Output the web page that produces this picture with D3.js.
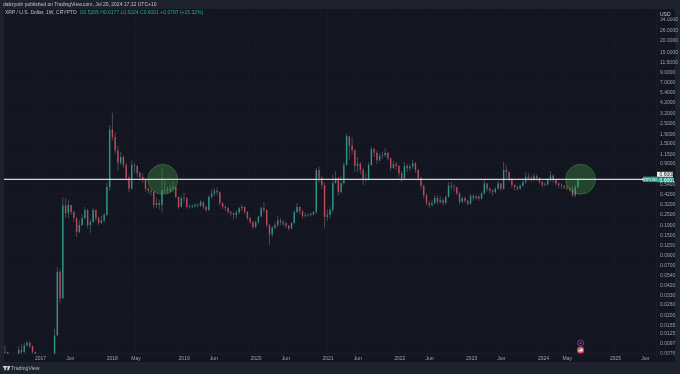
<!DOCTYPE html>
<html>
<head>
<meta charset="utf-8">
<script src="https://cdn.jsdelivr.net/npm/d3@7"></script>
<style>
  html, body { margin: 0; padding: 0; background: #1e222d; }
  svg { display: block; font-family: "Liberation Sans", Arial, sans-serif; filter: blur(0.35px); }
  .domain { display: none; }
  .tick line { display: none; }
</style>
</head>
<body>
<div id="chart"></div>
<script>
// Biweekly candles, first one is 2016-07-07
const startDate = "2016-07-07"
const stepDays = 14

const closes = [
  .0078,.0068,.0068,.0068,.0069,.0082,.0078,.0092,.0098,.0090,
  .0078,.0070,.0068,.0067,.0067,.0066,.0066,.0066,.0118,.0585,
  .030,.31,.256,.315,.264,.226,.16,.19,.226,.277,
  .19,.205,.277,.226,.2,.213,.245,.495,2.1,1.74,
  1.24,.91,1.05,.86,.62,.475,.86,.84,.70,.636,
  .59,.475,.45,.436,.315,.33,.315,.455,.455,.45,
  .475,.495,.385,.30,.375,.375,.30,.305,.305,.315,
  .31,.34,.30,.277,.385,.42,.45,.435,.33,.30,
  .29,.264,.256,.245,.26,.29,.30,.264,.226,.205,
  .181,.205,.235,.29,.277,.19,.15,.178,.19,.213,
  .205,.198,.187,.174,.2,.264,.30,.27,.24,.245,
  .245,.25,.264,.755,.62,.52,.233,.245,.277,.545,
  .62,.436,.545,.86,1.78,1.4,1.24,.84,.89,.76,
  .61,.6,.86,1.28,1.17,.97,1.08,1.1,1.17,1.02,
  .8,.88,.84,.70,.62,.84,.79,.83,.9,.76,
  .62,.51,.4,.33,.315,.33,.375,.34,.355,.33,
  .385,.51,.495,.49,.42,.34,.375,.35,.325,.395,
  .375,.39,.37,.42,.54,.475,.45,.435,.475,.54,
  .475,.76,.72,.6,.52,.495,.475,.51,.56,.64,
  .62,.59,.65,.62,.56,.52,.53,.59,.66,.59,
  .54,.52,.51,.49,.475,.46,.4,.49,.6
]
const highs = [
  .0092,.007,.007,.007,.0071,.0090,.0094,.0098,.0102,.0102,
  .0092,.0078,.0075,.0072,.0070,.0070,.0070,.0072,.0140,.066,
  .062,.385,.375,.36,.315,.27,.23,.215,.25,.30,
  .285,.22,.295,.28,.235,.24,.26,.55,2.35,3.2,
  1.95,1.4,1.2,1.1,.9,.66,.97,.92,.86,.73,
  .7,.62,.5,.48,.45,.38,.36,.79,.58,.5,
  .52,.56,.5,.39,.4,.43,.38,.32,.32,.33,
  .33,.36,.345,.31,.40,.47,.48,.49,.44,.34,
  .31,.30,.27,.26,.275,.30,.32,.305,.27,.235,
  .21,.215,.24,.30,.34,.28,.195,.185,.205,.24,
  .225,.215,.205,.19,.205,.275,.33,.305,.275,.26,
  .255,.26,.27,.80,.83,.66,.55,.28,.30,.68,
  .74,.64,.66,.93,1.9,1.72,1.74,1.28,1.05,.92,
  .8,.7,.92,1.37,1.33,1.22,1.16,1.2,1.33,1.2,
  1.04,.96,.93,.86,.74,.93,.88,.88,.98,.93,
  .78,.64,.52,.42,.35,.36,.4,.4,.39,.37,
  .4,.56,.56,.53,.5,.44,.39,.39,.36,.41,
  .41,.41,.40,.44,.59,.55,.49,.47,.49,.575,
  .55,.93,.86,.74,.62,.53,.51,.53,.59,.72,
  .7,.66,.7,.68,.63,.58,.56,.62,.74,.68,
  .61,.56,.54,.52,.52,.49,.5,.52,.62
]
const lows = [
  .0068,.0065,.0065,.0065,.0066,.0070,.0072,.0076,.0088,.0085,
  .0074,.0066,.0065,.0064,.0064,.0064,.0064,.0060,.0066,.0118,
  .0265,.030,.23,.225,.245,.205,.14,.155,.185,.22,
  .175,.155,.2,.21,.19,.195,.205,.235,.45,1.6,
  1.15,.75,.85,.8,.58,.436,.46,.7,.64,.58,
  .55,.44,.42,.40,.29,.29,.28,.26,.42,.42,
  .43,.44,.37,.285,.3,.335,.285,.29,.29,.295,
  .295,.3,.285,.265,.27,.37,.39,.4,.31,.285,
  .27,.25,.235,.22,.225,.25,.27,.25,.215,.195,
  .17,.175,.195,.23,.26,.18,.115,.14,.17,.18,
  .19,.185,.175,.165,.17,.195,.255,.25,.225,.23,
  .235,.235,.24,.25,.55,.47,.175,.21,.225,.26,
  .54,.4,.42,.52,.85,.97,1.12,.72,.72,.68,
  .52,.56,.58,.84,1.05,.88,.94,1.0,1.05,.96,
  .74,.78,.76,.64,.56,.6,.72,.74,.78,.7,
  .58,.47,.37,.31,.29,.3,.32,.32,.325,.31,
  .32,.38,.46,.44,.4,.32,.33,.33,.31,.32,
  .35,.36,.35,.36,.41,.44,.42,.4,.42,.46,
  .45,.46,.62,.56,.48,.45,.45,.46,.5,.54,
  .58,.56,.57,.58,.54,.49,.5,.51,.56,.55,
  .51,.48,.47,.47,.46,.44,.385,.38,.49
]

// Price axis labels
const priceTicks = [34,26,20,15,11.5,9,7,5.4,4.2,3.2,2.5,1.9,1.5,1.15,.9,.54,.42,.32,.25,.19,.15,.115,.09,.07,.054,.042,.033,.026,.02,.0155,.0125,.0097,.0076]

// Time axis labels
const timeTicks = ["2017-01-01","2017-06-01","2018-01-01","2018-05-01","2019-01-01","2019-06-01","2020-01-01","2020-06-01","2021-01-01","2021-06-01","2022-01-01","2022-06-01","2023-01-01","2023-06-01","2024-01-01","2024-05-01","2025-01-01","2025-06-01"]
const timeLabels = ["2017","Jun","2018","May","2019","Jun","2020","Jun","2021","Jun","2022","Jun","2023","Jun","2024","May","2025","Jun"]

const levelPrice = 0.6
const markedDates = ["2018-09-17","2024-07-10"]
const eventDate = "2024-07-10"

const W = 680, H = 374
const pane = { left: 4, right: 657, top: 9, bottom: 354 }

const up = "#28a08f", down = "#cf4a5c", axisText = "#9ea2ad", gridColor = "#191d29"

const x = d3.scaleUtc()
  .domain([new Date("2017-01-01"), new Date("2025-01-01")])
  .range([40, 615])

const y = d3.scaleLog()
  .domain([4.2, 0.042])
  .range([102, 285])

const parse = s => new Date(s)

const candles = closes.map((c, i) => ({
  date: d3.utcDay.offset(parse(startDate), i * stepDays),
  open: i == 0 ? c : closes[i - 1],
  close: c,
  high: highs[i],
  low: lows[i]
}))

const svg = d3.select("#chart").append("svg")
  .attr("width", W)
  .attr("height", H)

// Page and pane backgrounds
svg.append("rect").attr("width", W).attr("height", H).attr("fill", "#1e222d")
svg.append("rect")
  .attr("x", pane.left).attr("y", pane.top)
  .attr("width", 675 - pane.left).attr("height", 362 - pane.top)
  .attr("fill", "#131620")

svg.append("clipPath").attr("id", "pane").append("rect")
  .attr("x", pane.left).attr("y", pane.top)
  .attr("width", pane.right - pane.left).attr("height", pane.bottom - pane.top)

// Grid
const grid = svg.append("g").attr("clip-path", "url(#pane)")
grid.selectAll(".h").data(priceTicks).join("line")
  .attr("x1", pane.left).attr("x2", pane.right)
  .attr("y1", d => y(d)).attr("y2", d => y(d))
  .attr("stroke", gridColor).attr("stroke-width", 0.7)
grid.selectAll(".v").data(timeTicks).join("line")
  .attr("x1", d => x(parse(d))).attr("x2", d => x(parse(d)))
  .attr("y1", pane.top).attr("y2", pane.bottom)
  .attr("stroke", gridColor).attr("stroke-width", 0.7)

// Candles
const plot = svg.append("g").attr("clip-path", "url(#pane)")
const colour = d => d.close >= d.open ? up : down

plot.selectAll(".wick").data(candles).join("line")
  .attr("x1", d => x(d.date)).attr("x2", d => x(d.date))
  .attr("y1", d => y(d.high)).attr("y2", d => y(d.low))
  .attr("stroke", "#8f939c")
  .attr("stroke-opacity", 0.6)
  .attr("stroke-width", 0.7)

plot.selectAll(".body").data(candles).join("rect")
  .attr("x", d => x(d.date) - 0.7)
  .attr("width", 1.4)
  .attr("y", d => Math.min(y(d.open), y(d.close)))
  .attr("height", d => Math.max(0.7, Math.abs(y(d.open) - y(d.close))))
  .attr("fill", colour)
  .attr("fill-opacity", 0.9)

// Green circles
plot.selectAll(".mark").data(markedDates).join("circle")
  .attr("cx", d => x(parse(d)))
  .attr("cy", y(levelPrice))
  .attr("r", 15)
  .attr("fill", "#4caf50")
  .attr("fill-opacity", 0.3)
  .attr("stroke", "#4caf50")
  .attr("stroke-opacity", 0.6)
  .attr("stroke-width", 0.6)

// Level line
plot.append("line")
  .attr("x1", pane.left).attr("x2", pane.right)
  .attr("y1", y(levelPrice)).attr("y2", y(levelPrice))
  .attr("stroke", "#d8dade").attr("stroke-width", 1.2)

// Price axis
const yAxis = svg.append("g")
  .attr("transform", `translate(${pane.right},0)`)
  .call(d3.axisRight(y).tickValues(priceTicks).tickSize(0).tickPadding(3).tickFormat(d => d.toFixed(4)))
yAxis.selectAll("text").attr("fill", axisText).style("font-size", "5px").attr("font-family", "Liberation Sans")

svg.append("rect").attr("x", 658).attr("y", 9).attr("width", 17).attr("height", 8.5).attr("fill", "#131620")
svg.append("text").attr("x", 660).attr("y", 15.5).attr("fill", "#c8cad0").style("font-size", "5px").text("USD")

// Time axis
const xAxis = svg.append("g")
  .attr("transform", `translate(0,${pane.bottom})`)
  .call(d3.axisBottom(x).tickValues(timeTicks.map(parse)).tickSize(0).tickPadding(2)
    .tickFormat((d, i) => timeLabels[i]))
xAxis.selectAll("text").attr("fill", axisText).style("font-size", "5px").attr("font-family", "Liberation Sans")

// Axis borders
svg.append("line").attr("x1", pane.right).attr("x2", pane.right).attr("y1", pane.top).attr("y2", 362)
  .attr("stroke", "#20242f").attr("stroke-width", 0.7)
svg.append("line").attr("x1", pane.left).attr("x2", 675).attr("y1", pane.bottom).attr("y2", pane.bottom)
  .attr("stroke", "#20242f").attr("stroke-width", 0.7)

// Price tags
svg.append("rect").attr("x", 643).attr("y", y(levelPrice) - 2.7).attr("width", 14).attr("height", 5.4).attr("fill", "#2a9d8f")
svg.append("text").attr("x", 650).attr("y", y(levelPrice) + 1.5).attr("text-anchor", "middle")
  .attr("fill", "#e8f5f3").style("font-size", "4px").text("XRPUSD")
svg.append("rect").attr("x", 657).attr("y", y(levelPrice) - 2).attr("width", 16).attr("height", 5).attr("fill", "#2a9d8f")
svg.append("text").attr("x", 659.5).attr("y", y(levelPrice) + 2.2).attr("fill", "#ffffff").style("font-size", "5px").text("0.6001")
svg.append("rect").attr("x", 657).attr("y", y(levelPrice) - 7.5).attr("width", 16).attr("height", 5).attr("fill", "#f0f0f0")
svg.append("text").attr("x", 659.5).attr("y", y(levelPrice) - 3.3).attr("fill", "#131620").style("font-size", "5px").text("0.6008")

// Header text
svg.append("text").attr("x", 3).attr("y", 6.2).attr("fill", "#c0c3ca").style("font-size", "5px")
  .text("dabzyotir published on TradingView.com, Jul 20, 2024 17:12 UTC+10")
const legend = svg.append("text").attr("x", 5).attr("y", 14).attr("fill", "#c0c3ca").style("font-size", "5px")
legend.append("tspan").text("XRP / U.S. Dollar, 1W, CRYPTO")
legend.append("tspan").attr("dx", 3).attr("fill", "#26a69a").text("O0.5205 H0.6177 L0.5224 C0.6001 +0.0797 (+15.32%)")

// Event icons
const ex = x(parse(eventDate))
svg.append("circle").attr("cx", ex).attr("cy", 343).attr("r", 3).attr("fill", "#131620")
  .attr("stroke", "#8e44ad").attr("stroke-width", 0.8)
svg.append("circle").attr("cx", ex).attr("cy", 343).attr("r", 1).attr("fill", "#8e44ad")
svg.append("circle").attr("cx", ex).attr("cy", 350).attr("r", 3.6).attr("fill", "#e0455a")
svg.append("rect").attr("x", ex - 2).attr("y", 348.5).attr("width", 4).attr("height", 3).attr("fill", "#e8e8ee")
svg.append("rect").attr("x", ex - 2).attr("y", 348.5).attr("width", 1.8).attr("height", 1.4).attr("fill", "#3a5aa8")

// TradingView logo
svg.append("path").attr("d", "M3 366h4v1.4h-1.2v2.8h-1.5v-2.8h-1.3z M7.8 366h2.6l-1.6 4.2h-1.6z")
  .attr("fill", "#d1d4dc")
svg.append("circle").attr("cx", 8).attr("cy", 366.8).attr("r", 0.7).attr("fill", "#d1d4dc")
svg.append("text").attr("x", 11).attr("y", 370).attr("fill", "#b8bbc4").style("font-size", "5.2px").text("TradingView")
</script>
</body>
</html>
